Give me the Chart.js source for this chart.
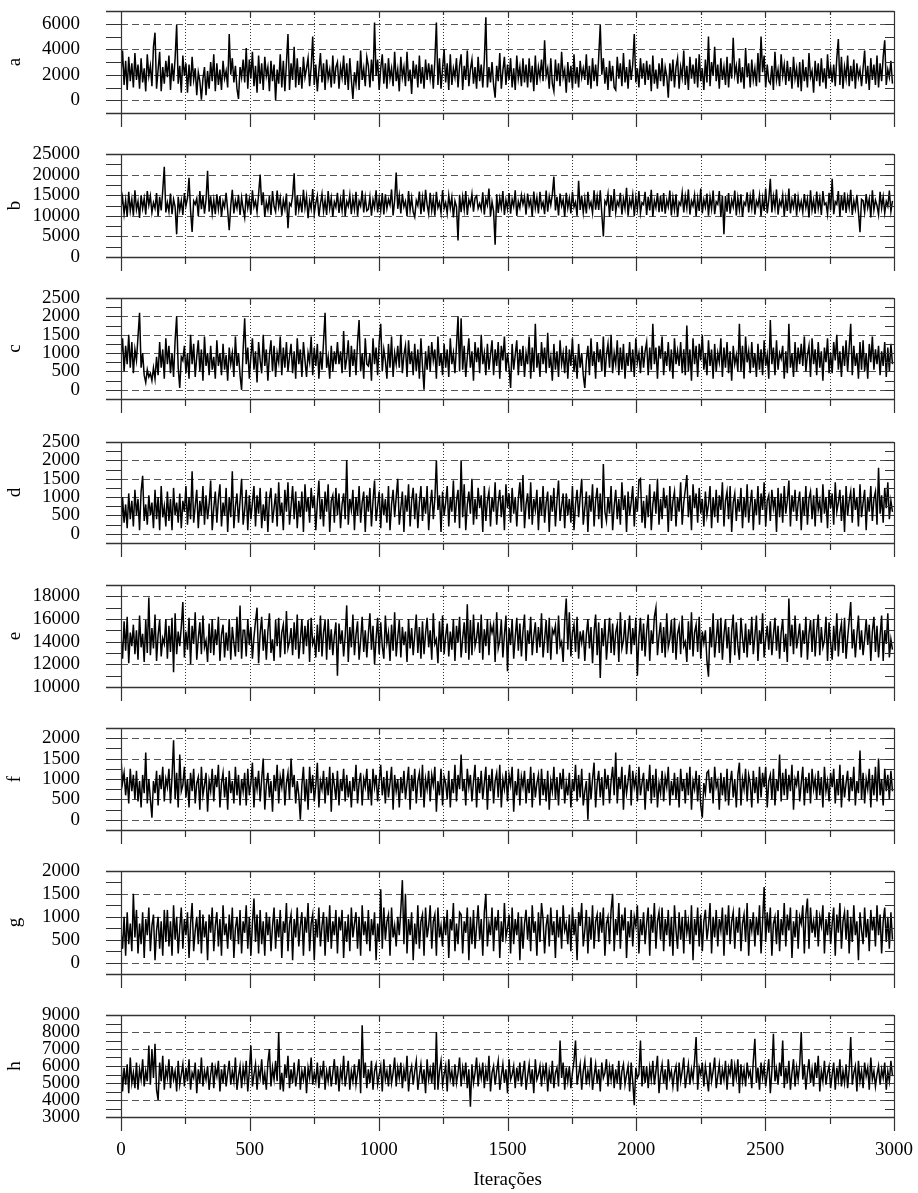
<!DOCTYPE html>
<html>
<head>
<meta charset="utf-8">
<script src="https://cdn.jsdelivr.net/npm/chart.js@4/dist/chart.umd.min.js"></script>
<style>
html,body{margin:0;padding:0;background:#fff;overflow:hidden;}
#wrap{position:relative;width:918px;height:1193px;}
canvas{position:absolute;left:0;}
</style>
</head>
<body>
<div id="wrap"></div>
<script>
// ---- DATA (thinned trace: one value every 6 iterations) ----
const panelNames = ['a','b','c','d','e','f','g','h'];
const xAxisTitle = 'Iterações';
const iterStep = 6;

const seriesA = [
2100,3900,1200,3100,800,3400,1500,2900,1000,3700,
1600,2800,900,3300,1400,2500,700,3600,1900,2700,
1100,4200,5300,900,2400,3800,700,2600,1300,3100,
1800,3500,800,2900,1500,3300,5900,1300,2700,600,
3500,1900,2900,600,2800,1100,3400,1600,2500,400,
2200,1500,50,1700,2600,400,2300,900,3000,1500,
3600,700,2900,1200,2400,800,3100,1700,2300,1000,
5200,2000,3300,1400,2700,900,100,2600,1800,3200,
1400,4100,900,3200,1700,3800,1100,2700,600,3500,
1300,2900,800,3400,1900,2600,700,3100,1500,2800,
0,2400,1300,3600,1000,3100,700,2900,5200,800,
2900,1600,4200,1000,3300,1200,2600,900,3400,1800,
2500,3300,1100,2600,5000,1200,2800,700,2300,3700,
1400,2900,800,3200,1700,2400,1000,3500,1300,2600,
3000,900,2600,1800,3500,1200,2900,800,3300,1600,
100,2200,1300,3100,800,3900,1600,2500,1100,3400,
2700,1000,3200,1500,6100,1900,3200,800,2500,3600,
1300,2900,900,3300,1700,2500,1100,3800,1500,2400,
700,3400,1800,2600,1100,3800,1500,2400,500,3100,
1700,2800,1000,3500,1300,2600,900,3200,1600,2900,
1700,2800,900,3100,6100,1200,3300,900,2500,4000,
1400,2900,800,3600,1200,2500,1800,3300,1000,2700,
3600,800,2700,1600,3900,1100,2400,3200,1300,2600,
900,3400,1500,2800,1000,3100,6500,1000,2600,1400,
3000,1200,200,2700,1500,3700,900,2300,3400,1200,
2800,1600,3300,1000,2500,800,3500,1700,2600,1100,
3300,1400,2800,1000,3300,1400,2700,700,3500,1200,
2600,1800,3200,1500,4700,1900,2500,900,3300,1300,
700,3200,1500,2900,1100,3800,1800,2400,600,3000,
1400,2700,900,3600,1300,2600,1000,3100,1800,2500,
1600,3600,1200,2700,900,3300,1500,2800,1100,3400,
5900,2000,3300,1300,2600,800,3100,1500,2700,1000,
800,3400,1700,2900,1100,3700,1400,2600,900,3200,
1600,2800,5200,1400,2500,1000,3300,1700,2900,1200,
3100,1600,2800,700,3500,1300,2400,900,2900,1500,
3300,1100,2600,1900,200,2900,1500,3200,1000,2600,
3300,900,2600,1800,3900,1200,2700,800,3400,1700,
2800,1300,3300,1000,3600,1500,2500,800,3200,1400,
5000,1100,3000,1900,4200,1500,2800,900,3300,1600,
2600,1200,3400,1000,2900,1700,4900,2000,2700,1300,
3300,1400,2600,900,4100,1800,2900,1000,3200,1600,
2500,1100,3700,1400,5000,2200,3500,1000,2800,1500,
1300,2700,800,3800,1600,2400,1100,3600,1900,2800,
1200,3100,1500,2600,900,3400,1700,2500,1000,3000,
700,3200,1500,2600,1000,3700,1800,2300,600,3100,
1500,2900,1100,3300,1400,2500,900,3600,1700,2600,
1400,2800,1100,3300,4800,1200,3400,900,2600,1700,
3500,1100,2700,1500,3200,900,2900,1800,2400,1100,
2500,3900,1300,2700,800,3300,1600,2800,1200,3500,
1000,2900,1500,3400,4700,1200,2400,1800,3100,1300];

const seriesB = [
12000,14500,10500,13800,9800,15800,11200,14000,10000,16200,
11500,13500,9500,15000,11800,14200,10300,16000,12600,14800,
10800,13200,11800,15500,9900,14600,11300,16100,21900,10800,
13200,11000,15400,10400,14000,12200,5500,14600,11400,13700,
10200,15500,12400,14300,19200,11200,6100,13600,12800,14200,
9900,16000,11600,14900,10500,13900,20900,11000,14700,10600,
13900,10400,15200,11600,14800,9800,13500,12100,15600,11300,
6500,12400,16300,10600,13700,11900,15100,10200,14400,11700,
9600,15400,11900,14100,10300,16200,12200,13600,10900,15300,
20000,12600,15700,9700,13300,11500,14800,10200,16000,12300,
11000,16100,12200,14400,10000,13800,11700,15400,7000,13000,
12400,14900,20300,10100,15000,11400,13900,10800,16300,11900,
14700,9400,13600,11700,16500,10500,13100,14900,9900,12900,
15300,11100,13800,10200,16000,11800,14300,9800,13400,12100,
15600,10700,14000,11300,16400,9900,13500,12300,15100,10400,
14200,11600,15800,10000,13600,12400,16100,10800,14500,11200,
11600,14600,10000,13900,12000,16200,10800,14200,11200,15500,
10300,15200,11800,14000,12600,16400,10100,13700,20500,11700,
14900,10600,15300,12200,13500,9900,16000,11400,14400,10900,
9700,13700,12500,15900,10400,14400,11000,16300,12700,10500,
15600,11300,14100,10000,15800,12000,13300,10700,16200,11800,
13200,10600,15000,11900,14500,9600,13600,12200,4000,15100,
10900,14600,11500,16000,10200,13900,12600,15300,11000,14300,
14800,11800,13000,11500,15700,10300,14100,12600,16600,9900,
13400,11100,3000,15200,10700,14300,12000,16000,10200,13800,
11700,15500,10500,14000,12300,16200,10000,13500,11900,15000,
12800,14600,10300,15400,12400,13900,9800,15900,11900,14400,
10600,15800,12100,13300,10400,16100,11000,14700,12600,15200,
19500,11300,14600,10100,15400,12400,13900,9800,15600,11900,
14200,10600,15800,12100,13300,10000,18500,11400,14900,10800,
14200,10600,15800,12100,13300,10700,16200,11500,14700,11400,
16200,10500,5000,13600,12800,15300,9700,14900,11200,16500,
10800,13500,12400,15600,10300,14100,11800,16800,10000,13900,
12300,15100,9900,14400,11600,16000,10700,13200,12700,15800,
10200,14600,11300,16300,9800,13700,12000,15500,10900,14800,
11000,15500,10500,13800,12200,16100,10100,14400,11500,15200,
9700,13300,12600,15600,10800,14700,11900,16400,10300,13600,
12400,15000,9900,14200,11200,16600,10600,13900,12100,15400,
10000,14500,11700,16100,10400,13400,12800,16000,9800,14900,
5500,14800,11000,15500,10500,13800,12200,16100,10100,14400,
11500,15200,9700,13300,12600,15700,10800,14700,11900,16400,
10300,13600,12400,15000,9900,14200,11200,16600,10600,13900,
19000,10800,14700,11900,16400,10300,13600,12400,15000,9900,
14200,11200,16600,10600,13900,12100,15400,10000,14500,11700,
13500,10900,15300,12000,14100,9600,16200,11400,13800,10500,
15900,11800,14300,10200,16000,12700,13100,10400,15600,11300,
19000,10400,13400,12800,16000,9800,14900,11300,15700,10700,
14400,12000,16300,10200,13600,11600,15100,10900,6000,14000,
13700,10900,15300,12000,14100,9600,16200,11400,13800,12500,
10300,15800,11900,14600,10700,13500,12300,16100,11000,13600];

const seriesC = [
900,1400,500,1200,700,1500,600,1300,450,1100,
800,1450,2100,600,1000,400,200,550,350,450,
250,600,300,900,400,1300,600,1100,300,1400,
700,1200,450,1000,350,1350,2000,600,50,900,
800,1200,450,1000,300,1500,700,1250,350,900,
1350,500,1100,250,1450,650,1000,400,1200,550,
900,300,1350,650,1000,400,1250,550,950,250,
1150,700,1000,350,1450,650,1000,400,0,1100,
1950,700,1150,300,900,1400,550,1050,200,1300,
800,450,1500,650,1100,250,950,1350,500,1200,
350,1000,750,1450,400,1150,600,1300,500,900,
1250,450,1050,300,1400,700,1100,350,1300,800,
350,1000,750,1450,400,1150,650,1250,300,1050,
550,1300,2100,600,900,300,1200,500,1050,700,
1300,700,1050,450,1600,550,850,1350,350,1200,
650,1100,400,1300,1900,500,1000,300,1400,700,
650,1000,250,1400,700,1150,400,1300,1800,500,
1100,800,300,1250,600,1450,350,1000,700,1200,
600,1500,450,950,1200,350,1350,700,1050,400,
1250,500,1100,300,1400,650,0,1050,550,1200,
500,1300,800,1100,300,1450,650,1000,400,1250,
600,1100,350,1400,700,1000,450,1200,2000,500,
1950,550,1200,350,900,1400,600,1050,250,1300,
750,1150,450,1500,700,1000,400,1250,550,950,
1350,400,1100,650,1300,300,1200,800,1450,500,
1000,600,50,1250,550,950,1350,400,1100,650,
1200,350,1000,700,1450,300,1150,500,1800,600,
1000,350,1300,700,1150,450,1550,600,900,250,
1250,550,1050,350,1350,700,1000,450,1200,300,
1100,650,1400,500,950,300,1250,600,1000,400,
50,800,1200,400,1400,650,1050,300,1300,750,
1100,500,1450,350,950,1250,600,1500,450,1000,
700,1350,400,1150,550,1250,300,1000,650,1300,
500,1100,350,1400,750,1000,450,1200,600,1050,
1300,400,1150,550,1800,700,1150,300,1200,850,
1450,400,1050,650,1300,500,1100,300,1400,700,
1050,650,1300,450,1100,400,1750,500,1100,250,
1400,700,1200,350,1250,800,1500,550,1000,400,
1350,650,1100,300,1250,500,1000,750,1400,350,
1150,600,1300,450,1050,250,1200,700,950,500,
1800,500,1200,300,1450,750,1050,450,1300,600,
1000,350,1250,550,1100,400,1350,650,950,300,
1900,700,1150,400,1350,550,1000,850,1200,300,
1050,450,1800,600,1000,350,1300,500,1150,700,
1250,650,1450,500,950,1200,350,1400,700,1100,
400,1300,600,1050,250,1150,750,1400,450,1000,
450,1300,800,1500,550,1050,350,1200,650,1350,
500,1150,1800,400,1200,650,1000,300,1300,550,
1350,500,1000,300,1250,750,1450,550,1100,700,
1200,400,1050,650,1300,350,1150,500,1250,700];

const seriesD = [
0,1000,300,800,150,1100,400,900,200,1200,
500,950,100,1150,1580,350,800,250,1050,500,
850,150,1200,400,1000,100,1300,450,750,200,
1150,350,950,100,1250,500,850,300,1100,150,
900,600,1300,250,1000,400,1700,300,750,1200,
150,900,500,1300,250,1050,400,800,1450,100,
700,1150,300,950,1350,200,850,500,1250,50,
1000,450,1700,150,750,1100,300,900,1500,250,
650,1200,100,1050,400,850,1300,200,1050,550,
1250,150,800,350,1150,50,950,1250,300,700,
1100,200,1400,500,850,100,1200,600,1400,250,
750,1300,400,1150,150,900,450,1150,50,1350,
600,1000,300,1250,700,1050,100,850,1450,400,
950,200,1150,600,1350,50,900,1050,300,1250,
500,1100,150,800,1100,400,2000,250,950,650,
1200,100,1000,500,1300,300,850,1150,50,1050,
600,1250,200,900,1450,350,750,1150,150,1100,
500,950,300,1300,100,800,1200,450,1000,1500,
250,700,1150,50,1050,600,1350,200,900,1250,
400,1100,150,850,1300,350,1000,550,1300,100,
750,1200,400,950,2000,650,1050,50,1150,500,
850,1300,200,1000,600,1450,300,900,1200,150,
2000,450,1350,100,800,1150,550,1500,250,950,
400,1250,700,1050,50,1300,350,900,1150,200,
1000,600,1400,250,850,1200,450,1050,100,1350,
700,1100,300,1250,550,1000,200,950,1400,600,
1600,150,800,1100,400,1400,250,950,650,1200,
100,1000,500,1300,300,850,1150,50,1050,600,
1250,200,900,1450,350,750,1100,150,1100,500,
950,300,1300,100,800,1200,450,1000,1500,250,
700,1150,50,1050,600,1350,200,900,1250,400,
1100,150,1900,600,350,1000,550,1300,100,750,
1200,400,950,250,1400,650,1050,50,1150,500,
850,1300,200,1000,600,1450,1500,300,900,150,
1050,450,1350,100,800,1150,550,1500,250,950,
400,1250,700,1050,50,1300,350,900,1150,200,
1000,600,1400,250,850,1200,1600,450,1050,100,
1350,700,1100,300,1250,550,950,200,1150,500,
800,1300,150,1000,450,1200,300,1050,650,1400,
200,900,1150,400,1300,50,850,1100,350,950,
600,1250,150,1000,450,1350,300,800,1200,100,
950,500,1300,250,1100,650,1400,200,900,1050,
350,1200,700,1000,50,1250,450,1100,300,1300,
550,900,1450,200,1050,600,1200,350,850,1150,
100,1000,500,1300,250,950,1150,400,1050,200,
1250,650,900,300,1350,550,1000,150,1200,700,
1100,250,1400,600,850,1200,350,1050,50,1300,
500,900,1150,300,1250,650,1000,200,1350,450,
850,1200,100,1000,600,1300,350,950,1150,250,
1800,550,1050,300,1250,700,1400,400,900,600];

const seriesE = [
14500,12500,15800,13200,16200,12100,14800,13600,15500,12900,
15000,12400,16300,13500,14700,12200,15900,13000,17900,12800,
15200,13400,16400,12300,14600,15900,12700,14300,13800,16000,
12500,15400,13100,16100,11300,16500,12900,14900,13600,15300,
17500,12600,14900,13300,16100,12000,15400,13800,16600,12400,
14300,15700,12900,16300,13500,14100,12200,15600,13000,16000,
12800,15100,13700,16200,12300,14600,15500,12600,14800,13200,
16000,12400,15300,13900,12700,16200,13100,17200,12500,15000,
15000,12700,16000,13700,15300,12500,14400,15800,17000,12100,
14700,16200,13200,15100,12400,14900,16500,13000,14200,12300,
15900,13600,16100,12600,14800,15500,12900,16700,13400,14000,
15200,12800,15700,13300,16400,12500,14100,16000,12900,15400,
13600,15900,12200,16100,13800,14300,12600,15500,13100,16300,
12700,14800,15900,12400,16000,13300,15100,12800,14500,15700,
11000,15600,13800,15000,12700,14500,17200,12200,15300,13500,
16400,12800,14600,15800,12400,14100,16200,13100,15000,12600,
14700,16500,13300,15400,12000,14300,16100,12900,15700,13600,
12500,16300,13900,14800,12300,15500,13200,16600,12700,14400,
15900,12600,15300,13700,14900,12200,16000,13400,15200,12800,
14600,16400,13000,15300,12500,15800,12900,14700,16100,13500,
15000,12400,16500,13800,14200,12100,15800,13100,16300,12900,
14500,15600,12700,14900,13300,16000,12300,15400,13900,16200,
12600,14300,15700,13000,17300,12400,15900,12800,16400,13600,
14300,15700,13000,16400,12400,15100,13600,16000,12800,15500,
14800,15500,12200,16600,13400,14100,15900,12600,14600,16300,
11400,15200,13700,16000,12500,14400,16100,13200,15600,12700,
14900,16400,12300,15000,13800,16200,12800,14500,15700,13000,
15300,13500,16500,12600,14200,15900,13000,16100,12400,15100,
14700,15400,12900,16300,13600,14000,12200,15800,17800,13300,
16600,12700,14800,15500,13100,16200,12500,14900,13900,15000,
12300,14600,16000,13400,15300,12100,14900,16400,12800,15700,
10800,15200,13600,16000,12400,14300,16100,13000,15600,12800,
14800,15500,12200,16600,13400,14100,15900,12900,14600,16300,
12900,15200,13700,16100,11000,14400,16100,13200,15600,12700,
14900,16400,12300,15000,13800,16200,17000,12800,14500,15700,
13000,15300,12600,16500,13500,14200,15900,13000,16100,12400,
14700,15400,12900,16300,13600,14000,12200,15800,13300,16600,
12700,14800,15500,13100,16200,12500,14900,13900,15000,12300,
10900,15300,13500,16500,12600,14200,15900,13000,16100,12400,
14600,16000,13400,15300,12100,14900,16400,12800,15700,13600,
12400,16100,14300,13000,15600,12600,15100,13700,16200,12900,
14500,16300,12300,15000,13800,16500,12600,14200,15400,13300,
15800,12800,14600,16100,13200,15400,12500,14800,16000,13100,
14700,12200,17800,13600,15500,12900,16300,13400,14400,15600,
12600,15000,13800,16200,12400,14700,15900,13100,16000,12700,
14900,16400,12800,15300,13500,14100,16200,12300,15700,13900,
12400,15400,13200,16500,12700,14800,15600,13000,16100,12500,
14300,15900,17500,13400,15100,12600,14600,16300,13300,15000,
12800,14200,16000,13700,15500,12300,14900,16200,13100,15400,
12600,14500,16300,12300,15000,13800,16500,12600,14200,13300];

const seriesF = [
1500,900,1150,600,1050,400,1250,700,1100,500,
1200,450,950,300,1100,650,1650,400,1000,500,
50,950,650,1200,350,1100,750,1300,450,1000,
800,1250,400,1050,1950,500,1150,300,1600,700,
850,1300,550,1000,300,1150,700,1250,400,900,
1050,250,1300,600,850,1150,200,950,700,1250,
450,1100,800,1350,300,900,1150,550,1050,250,
1200,650,950,400,1300,600,1100,350,1000,700,
1150,350,1250,600,900,1400,300,1050,750,1200,
450,1000,1500,250,850,1150,550,950,200,1100,
700,1350,400,1050,800,1250,350,900,1150,500,
1500,800,1100,400,950,600,0,850,1300,450,
1000,250,1300,650,1100,450,850,1400,300,950,
750,1200,400,1050,600,1300,200,1150,850,500,
1200,350,1000,700,1250,450,1100,550,950,300,
1050,700,1350,400,900,1150,350,1000,800,1250,
500,1000,350,1250,800,1100,450,950,1350,600,
1050,400,1200,550,900,1300,250,1100,700,1000,
300,1050,650,1200,500,900,1300,250,1100,700,
1250,400,950,1150,550,1350,300,1000,750,1200,
450,1100,850,1300,200,950,600,1250,350,1050,
900,500,1200,300,1000,650,1350,450,1100,750,
1600,700,1000,350,1250,800,1100,450,950,1350,
300,1050,650,1200,500,900,1300,250,1100,700,
1250,400,950,1150,550,1350,300,1000,750,1200,
450,1100,850,1300,200,950,600,1250,350,1050,
800,1200,400,1000,650,1300,300,1150,550,900,
1100,350,1250,600,1000,450,1200,250,950,700,
1300,500,1050,350,1150,750,1250,400,900,600,
1150,300,1000,700,1350,450,1100,550,1250,350,
700,950,0,1150,500,1000,1400,300,900,1200,
550,1050,350,1250,750,1100,400,950,1300,600,
1650,400,1050,750,1300,250,1100,650,950,1350,
350,1200,800,1050,450,1300,600,900,1150,250,
1000,700,1350,400,1100,550,1250,300,900,650,
1200,450,1050,800,1300,350,950,600,1150,500,
1050,300,1250,700,1000,400,1150,600,1300,250,
950,750,1200,450,1100,350,50,900,650,1150,
1200,650,1050,400,1300,800,950,250,1150,600,
1050,450,1250,350,900,1200,550,1000,300,1100,
1400,350,1000,750,1250,450,1100,900,300,1200,
650,1050,400,1300,550,1150,800,1300,300,950,
1100,500,1250,350,1000,700,1600,450,1150,600,
1250,500,1100,700,1350,250,1000,850,1200,450,
900,1300,350,1050,650,1150,400,1250,750,1000,
500,1200,600,1050,300,1300,700,950,450,1150,
800,1250,400,1000,600,1350,300,1100,550,900,
1200,450,1050,700,1300,350,950,650,1700,500,
1150,400,1000,750,1250,300,1100,600,1300,450,
1500,600,1000,350,1250,700,1100,500,1200,700];

const seriesG = [
700,300,1000,150,1100,400,850,250,1500,550,
1150,200,850,400,1100,100,950,600,1200,250,
800,1050,50,700,1000,300,900,150,1150,450,
1150,350,900,150,1250,500,1000,200,750,1200,
300,950,600,1100,100,850,1300,250,700,1000,
400,1150,200,1050,550,900,50,1050,650,1200,
250,800,1100,350,950,150,1250,600,850,300,
1050,500,1200,100,750,1000,400,1150,200,900,
650,1250,300,1000,150,850,1400,450,1050,200,
1150,400,900,150,1100,600,1000,250,800,1200,
300,950,550,1150,100,900,650,1300,250,850,
1050,50,950,550,1200,350,800,1100,150,1000,
650,1300,250,850,1050,50,950,550,1200,350,
800,1100,150,1000,450,1250,300,900,600,1150,
200,1000,700,1150,100,900,450,1050,250,1200,
550,850,1100,300,1000,150,1250,600,900,400,
1150,250,950,600,1100,50,850,450,1600,300,
1200,500,900,1050,150,1200,550,800,350,1000,
600,1150,1800,400,1500,200,950,600,1100,50,
850,400,1250,300,900,1050,150,1200,550,800,
1250,300,900,1050,150,1200,550,800,350,1000,
600,1150,100,950,700,1300,250,850,400,1100,
1050,200,900,650,1200,50,1000,400,1150,300,
800,1250,500,950,150,1100,1500,350,850,600,
1200,250,1000,700,1150,100,900,450,1300,550,
750,1050,200,1200,400,950,600,1100,50,1000,
300,850,1150,500,1000,250,1250,650,900,150,
1100,450,1300,950,200,800,1050,350,1200,600,
900,100,1150,550,1000,300,1250,700,850,400,
1050,250,1200,600,950,50,1100,800,1300,350,
700,1150,200,1000,500,1250,300,900,1050,450,
1100,650,1200,150,850,1000,400,1150,1500,250,
950,600,1300,300,1050,700,1200,100,900,550,
1150,350,1000,800,1250,200,950,600,1100,400,
850,1200,150,1050,650,1300,300,900,1100,500,
1200,250,950,600,1150,350,1000,150,1250,700,
300,1100,500,1000,200,1150,650,900,400,1250,
50,950,600,1200,350,1050,250,900,1150,500,
800,1300,200,1000,550,1150,350,950,700,1200,
150,1050,600,1250,400,900,1100,300,1000,650,
1200,250,850,1050,450,1300,150,950,700,1100,
350,1000,600,1250,200,900,1650,450,1100,650,
1200,150,850,1000,400,1150,250,950,600,1300,
350,1050,700,1200,100,900,550,1150,300,1000,
850,1250,200,1050,1400,300,1200,650,900,550,
1150,350,1000,800,1250,200,950,600,1100,400,
850,1200,150,1050,650,1300,300,900,1100,500,
1150,200,1000,450,1250,600,900,50,1100,700,
400,1200,550,950,250,1150,700,1000,350,1250,
600,1050,200,900,1200,450,1000,300,1100,500];

const seriesH = [
6300,4500,5900,4900,6100,4400,6500,5000,5600,4700,
6200,4600,5800,5200,6400,4800,5700,5100,7200,4900,
7000,5300,7300,4600,4000,6200,5100,6600,4600,5800,
5300,6400,4700,6000,5200,5700,4500,6300,4900,5500,
6100,4800,5900,5100,6400,4600,5600,5300,6200,4400,
5800,5000,6500,4800,5700,5200,6000,4600,5500,6200,
4700,5900,5400,6300,4500,5800,5000,6100,4800,5600,
6300,4900,5700,5100,6500,4600,5400,6000,4700,5900,
5200,6300,4500,5700,7200,4800,5500,6100,4600,5800,
5300,6400,4900,5600,4600,6200,7000,4800,5900,5200,
6300,5100,8000,4600,5600,4500,6100,5300,6600,4700,
5800,5000,6200,4800,5500,6400,4600,5700,5200,6000,
4400,5900,5300,6500,4900,5600,5100,6200,4700,5800,
5400,6300,4600,5700,5100,6000,4800,5600,6400,4900,
6000,4500,5800,5200,6600,4800,5500,6300,4600,5700,
5100,6100,4900,5600,6400,4400,8400,5300,6200,4700,
5800,5000,6300,4600,5700,6100,4900,5500,6000,4500,
6400,5200,5700,4800,6100,5000,5600,6500,4800,5900,
5300,6200,4700,5800,5100,6600,4500,5600,6000,4900,
5700,6300,4600,5400,6100,5000,5800,4400,6400,5200,
5800,5000,6200,4600,8000,4600,5700,6300,4900,5500,
6000,4500,6400,5200,5700,4800,6100,5000,5600,6500,
4800,5900,5300,6200,4700,5800,3600,6100,5000,5600,
6500,4800,5900,5300,6200,4700,5800,5100,6600,4500,
5600,6000,4900,5700,6300,4600,5400,6100,5000,5800,
4400,6400,5200,5500,6000,4700,5900,5100,6200,4800,
5600,6300,4600,5400,6100,5000,5800,4400,6400,5200,
5500,6000,4800,5900,5300,6200,4500,5700,5000,6300,
4700,5600,5900,4800,7500,5300,6200,4600,5900,5100,
6000,4700,5600,6300,7500,4900,5500,6100,4600,5700,
6300,4900,5700,5100,6500,4600,5400,6100,5000,5800,
4500,6200,5300,5600,6400,4800,5900,5200,6100,4700,
5800,5000,6300,4600,5700,6100,4900,5500,6000,4500,
6200,5100,3700,5900,5300,5500,7500,4800,6000,5000,
6000,4700,5900,5200,6300,4900,5700,6600,4400,5500,
6100,5000,5800,4600,6400,5300,5700,4800,5600,6000,
4500,6200,5100,5700,6500,4700,5400,6100,4900,5800,
5200,6300,7700,4600,5900,5500,6200,4800,6000,5300,
4500,6200,5100,5700,6500,4700,5400,6100,4900,5800,
5200,6300,4600,5900,5500,6400,4800,6000,5300,6400,
4400,6100,5100,5800,4800,6200,5400,5700,4700,6300,
7600,5000,5900,4600,6200,5300,6000,4800,5600,6400,
4400,5700,7900,5100,5800,4900,6200,5400,7500,4700,
5900,5000,6300,4600,5600,6400,4800,5900,5200,6100,
8000,5200,6100,4600,5600,6400,5000,5800,4800,6200,
5300,6600,4500,5700,5100,6300,4900,5600,6000,4700,
5500,6200,4600,5900,5200,6400,4800,5700,5000,6100,
4700,5800,7700,4900,5600,6000,4500,6300,5100,5700,
4700,6200,5400,5900,4600,6500,5200,5700,4800,5500,
6000,4900,5800,5300,6200,4600,5700,5100,6300,5400];

const allSeries = [seriesA, seriesB, seriesC, seriesD, seriesE, seriesF, seriesG, seriesH];

// y-axis ranges / tick steps per panel
const yMins   = [-1000, 0,    -250, -250, 10000, -250, -250, 3000];
const yMaxs   = [7000, 25000, 2500, 2500, 19000, 2250, 2000, 9000];
const yMinor  = [1000, 2500,  250,  250,  1000,  250,  250,  500];
const yLabelStep = [2000, 5000, 500, 500, 2000, 500, 500, 1000];
const xMin = 0, xMax = 3000, xTickStep = 500;

// ---- LAYOUT ----
const frameTops    = [11, 154, 298, 442, 585, 728, 871, 1015];
const frameBottoms = [113, 257, 399, 543, 687, 830, 974, 1117];
const PAD_TOP = 15, AXIS_LEFT = 121, AXIS_RIGHT = 894, W = 918;
const FONT = {family: "'Liberation Serif','Times New Roman',serif", size: 19};

const framePlugin = {
  id: 'frame',
  beforeDatasetsDraw(chart, args, opts) {
    const {ctx, chartArea: ca, scales: {x, y}} = chart;
    ctx.save();
    ctx.lineWidth = 1;
    ctx.strokeStyle = '#555';
    ctx.setLineDash([7, 4]);
    y.ticks.forEach(t => {
      if (t.value === y.min || t.value === y.max) return;
      if (t.value % opts.labelStep !== 0) return;
      const py = Math.round(y.getPixelForValue(t.value)) + 0.5;
      ctx.beginPath(); ctx.moveTo(ca.left, py); ctx.lineTo(ca.right, py); ctx.stroke();
    });
    ctx.strokeStyle = '#333';
    ctx.setLineDash([1, 2]);
    for (let v = xTickStep / 2; v < x.max; v += xTickStep / 2) {
      const px = Math.round(x.getPixelForValue(v)) + 0.5;
      ctx.beginPath(); ctx.moveTo(px, ca.top); ctx.lineTo(px, ca.bottom); ctx.stroke();
    }
    ctx.restore();
  },
  afterDatasetsDraw(chart) {
    const {ctx, chartArea: ca, scales: {x, y}} = chart;
    ctx.save();
    ctx.setLineDash([]);
    ctx.strokeStyle = '#333';
    ctx.lineWidth = 1.4;
    const top = Math.round(ca.top) + 0.5, bot = Math.round(ca.bottom) + 0.5;
    ctx.beginPath();
    ctx.moveTo(ca.left - 15, top); ctx.lineTo(ca.right, top);
    ctx.moveTo(ca.left - 15, bot); ctx.lineTo(ca.right, bot);
    ctx.stroke();
    ctx.lineWidth = 1.2;
    ctx.beginPath();
    y.ticks.forEach(t => {
      const py = Math.round(y.getPixelForValue(t.value)) + 0.5;
      ctx.moveTo(ca.left - 15, py); ctx.lineTo(ca.left, py);
      ctx.moveTo(ca.right - 9, py); ctx.lineTo(ca.right, py);
    });
    ctx.stroke();
    ctx.beginPath();
    for (let v = 0; v <= x.max; v += xTickStep / 2) {
      const major = v % xTickStep === 0;
      const px = Math.round(x.getPixelForValue(v)) + 0.5;
      if (v === x.min || v === x.max) {
        ctx.moveTo(px, ca.top); ctx.lineTo(px, ca.bottom + 14);
      } else {
        ctx.moveTo(px, ca.top); ctx.lineTo(px, ca.top + (major ? 6 : 4));
        ctx.moveTo(px, ca.bottom); ctx.lineTo(px, ca.bottom + (major ? 14 : 7));
      }
    }
    ctx.stroke();
    ctx.restore();
  }
};

const wrap = document.getElementById('wrap');
panelNames.forEach((name, i) => {
  const last = i === panelNames.length - 1;
  const xH = last ? (1193 - frameBottoms[i]) : 20;
  const h = (frameBottoms[i] - frameTops[i]) + PAD_TOP + xH;
  const cv = document.createElement('canvas');
  cv.width = W; cv.height = h;
  cv.style.top = (frameTops[i] - PAD_TOP) + 'px';
  cv.style.width = W + 'px'; cv.style.height = h + 'px';
  wrap.appendChild(cv);
  const lblStep = yLabelStep[i];
  new Chart(cv, {
    type: 'line',
    data: {
      datasets: [{
        data: allSeries[i].map((v, k) => ({x: k * iterStep, y: v})),
        borderColor: '#000', borderWidth: 1.5, pointRadius: 0, tension: 0, fill: false
      }]
    },
    options: {
      responsive: false, animation: false, events: [],
      layout: {padding: {top: PAD_TOP, right: W - AXIS_RIGHT, bottom: 0, left: 0}},
      plugins: {legend: {display: false}, tooltip: {enabled: false}, frame: {labelStep: lblStep}},
      scales: {
        x: {
          type: 'linear', min: xMin, max: xMax,
          grid: {display: false, drawTicks: false}, border: {display: false},
          ticks: {display: last, stepSize: xTickStep, autoSkip: false, maxRotation: 0,
                  font: FONT, color: '#000', padding: 22, callback: v => String(v)},
          title: {display: last, text: xAxisTitle, font: FONT, color: '#000', padding: {top: 0, bottom: 2}},
          afterFit(s) { s.height = xH; s.paddingLeft = 0; s.paddingRight = 0; }
        },
        y: {
          min: yMins[i], max: yMaxs[i],
          grid: {display: false, drawTicks: false}, border: {display: false},
          ticks: {stepSize: yMinor[i], autoSkip: false, font: FONT, color: '#000', padding: 41,
                  callback: v => (v % lblStep === 0 ? String(v) : '')},
          title: {display: true, text: name, font: FONT, color: '#000', padding: 4},
          afterFit(s) { s.width = AXIS_LEFT; s.paddingTop = 0; s.paddingBottom = 0; }
        }
      }
    },
    plugins: [framePlugin]
  });
});
</script>
</body>
</html>
